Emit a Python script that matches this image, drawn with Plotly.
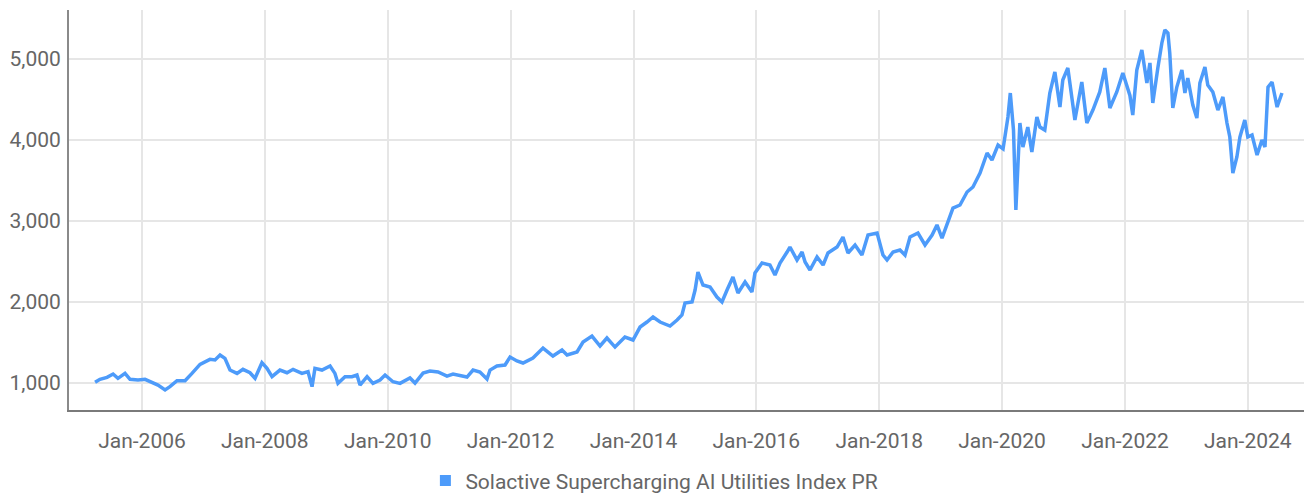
import plotly.graph_objects as go

# Solactive Supercharging AI Utilities Index PR, index level (price return)
dates = [
    "2005-03-28", "2005-04-26", "2005-06-07", "2005-07-13", "2005-08-11", "2005-09-22",
    "2005-10-22", "2005-12-08", "2006-01-19", "2006-03-01", "2006-04-06", "2006-05-18",
    "2006-06-16", "2006-07-28", "2006-09-14", "2006-10-25", "2006-12-12", "2007-02-09",
    "2007-03-11", "2007-04-10", "2007-05-09", "2007-06-08", "2007-07-20", "2007-08-24",
    "2007-10-05", "2007-11-04", "2007-12-15", "2008-01-14", "2008-02-13", "2008-03-31",
    "2008-05-12", "2008-06-17", "2008-08-09", "2008-09-14", "2008-10-08", "2008-10-25",
    "2008-12-06", "2009-01-23", "2009-02-21", "2009-03-11", "2009-04-22", "2009-06-02",
    "2009-07-02", "2009-07-20", "2009-08-31", "2009-10-05", "2009-11-16", "2009-12-16",
    "2010-02-01", "2010-03-15", "2010-05-13", "2010-06-12", "2010-07-30", "2010-09-09",
    "2010-10-27", "2010-12-19", "2011-01-24", "2011-04-17", "2011-05-23", "2011-07-03",
    "2011-08-14", "2011-09-01", "2011-10-12", "2011-11-29", "2011-12-29", "2012-02-08",
    "2012-03-15", "2012-05-13", "2012-07-12", "2012-09-09", "2012-11-02", "2012-12-02",
    "2013-01-30", "2013-03-07", "2013-04-29", "2013-06-16", "2013-07-27", "2013-09-13",
    "2013-11-11", "2013-12-29", "2014-02-09", "2014-03-22", "2014-04-27", "2014-06-08",
    "2014-08-06", "2014-09-17", "2014-10-16", "2014-11-03", "2014-12-15", "2015-01-02",
    "2015-01-19", "2015-02-18", "2015-04-01", "2015-05-12", "2015-06-11", "2015-07-11",
    "2015-08-15", "2015-09-14", "2015-10-26", "2015-12-06", "2015-12-24", "2016-02-04",
    "2016-03-22", "2016-04-21", "2016-05-21", "2016-07-02", "2016-07-19", "2016-08-30",
    "2016-09-29", "2016-10-17", "2016-11-15", "2016-12-27", "2017-02-01", "2017-03-02",
    "2017-04-25", "2017-05-30", "2017-06-29", "2017-08-10", "2017-09-20", "2017-10-26",
    "2017-12-19", "2018-01-23", "2018-02-16", "2018-03-24", "2018-05-04", "2018-06-03",
    "2018-07-03", "2018-08-19", "2018-09-30", "2018-11-11", "2018-12-10", "2019-01-09",
    "2019-02-08", "2019-03-15", "2019-04-26", "2019-06-07", "2019-07-12", "2019-08-23",
    "2019-10-04", "2019-11-02", "2019-12-08", "2020-01-07", "2020-02-05", "2020-02-19",
    "2020-03-09", "2020-03-23", "2020-04-16", "2020-05-04", "2020-06-02", "2020-06-26",
    "2020-07-26", "2020-08-13", "2020-09-11", "2020-10-11", "2020-11-10", "2020-12-10",
    "2020-12-27", "2021-01-26", "2021-03-09", "2021-04-19", "2021-05-19", "2021-06-24",
    "2021-08-04", "2021-09-03", "2021-10-03", "2021-11-13", "2021-12-19", "2022-01-30",
    "2022-02-16", "2022-03-12", "2022-04-11", "2022-05-11", "2022-05-29", "2022-06-15",
    "2022-07-15", "2022-08-08", "2022-08-26", "2022-09-13", "2022-09-24", "2022-10-12",
    "2022-11-05", "2022-12-05", "2022-12-23", "2023-01-09", "2023-02-08", "2023-03-04",
    "2023-03-22", "2023-04-21", "2023-05-08", "2023-06-07", "2023-07-07", "2023-08-06",
    "2023-08-30", "2023-09-16", "2023-10-04", "2023-10-28", "2023-11-15", "2023-12-14",
    "2024-01-01", "2024-01-26", "2024-02-25", "2024-03-25", "2024-04-12", "2024-04-30",
    "2024-05-24", "2024-06-23", "2024-07-22",
]

index_level = [
    1009, 1046, 1070, 1111, 1058, 1119,
    1046, 1037, 1046, 1009, 975, 914,
    955, 1029, 1029, 1119, 1231, 1292,
    1284, 1346, 1305, 1160, 1119, 1169,
    1127, 1058, 1251, 1181, 1078, 1160,
    1127, 1169, 1119, 1140, 955, 1181,
    1160, 1210, 1119, 996, 1078, 1078,
    1099, 975, 1078, 996, 1037, 1099,
    1016, 996, 1062, 1000, 1123, 1148,
    1136, 1086, 1111, 1074, 1160, 1136,
    1049, 1160, 1210, 1222, 1321, 1272,
    1247, 1309, 1432, 1333, 1407, 1346,
    1383, 1506, 1580, 1457, 1556, 1444,
    1568, 1531, 1691, 1753, 1815, 1753,
    1704, 1778, 1840, 1988, 2000, 2148,
    2370, 2210, 2185, 2062, 2000, 2148,
    2309, 2111, 2247, 2123, 2358, 2481,
    2457, 2333, 2481, 2617, 2679, 2519,
    2617, 2494, 2395, 2556, 2457, 2605,
    2679, 2802, 2605, 2704, 2580, 2827,
    2852, 2580, 2519, 2617, 2642, 2580,
    2802, 2852, 2704, 2827, 2951, 2790,
    2975, 3160, 3198, 3358, 3420, 3593,
    3840, 3753, 3938, 3890, 4284, 4580,
    4123, 3136, 4210, 3914, 4160, 3852,
    4284, 4160, 4123, 4580, 4840, 4407,
    4741, 4889, 4247, 4716, 4210, 4370,
    4593, 4889, 4395, 4593, 4827, 4550,
    4309, 4864, 5111, 4704, 4951, 4457,
    4889, 5198, 5358, 5321, 5074, 4395,
    4654, 4864, 4580, 4765, 4432, 4272,
    4704, 4901, 4679, 4593, 4370, 4531,
    4210, 4037, 3593, 3790, 4037, 4247,
    4037, 4062, 3815, 4000, 3914, 4654,
    4716, 4407, 4580,
]

series_name = "Solactive Supercharging AI Utilities Index PR"
line_color = "#4d9bfa"
text_color = "#666666"
grid_color = "#e6e6e6"
font_family = "Roboto, Arial, sans-serif"

fig = go.Figure()

fig.add_trace(go.Scatter(
    x=dates,
    y=index_level,
    mode="lines",
    line=dict(color=line_color, width=3.5),
    name=series_name,
    showlegend=False,
))

# legend entry drawn as a square swatch
fig.add_trace(go.Scatter(
    x=[None],
    y=[None],
    mode="markers",
    marker=dict(symbol="square", size=11, color=line_color),
    name=series_name,
    showlegend=True,
))

fig.update_layout(
    width=1304,
    height=496,
    margin=dict(l=69, r=0, t=10, b=86, autoexpand=False),
    paper_bgcolor="white",
    plot_bgcolor="white",
    font=dict(family=font_family, size=20, color=text_color),
    legend=dict(
        orientation="h",
        x=0.474,
        xanchor="center",
        y=-0.177,
        yanchor="middle",
        font=dict(size=21, color=text_color),
        itemwidth=30,
    ),
    xaxis=dict(
        range=["2004-10-24", "2024-11-30"],
        type="date",
        tick0="2006-01-01",
        dtick="M24",
        tickformat="%b-%Y",
        showgrid=True,
        gridcolor=grid_color,
        gridwidth=2,
        showline=True,
        linecolor="#7a7a7a",
        linewidth=2,
        ticks="",
        ticklabelstandoff=11,
        tickfont=dict(size=21, color=text_color),
        zeroline=False,
    ),
    yaxis=dict(
        range=[667, 5605],
        tickvals=[1000, 2000, 3000, 4000, 5000],
        tickformat=",",
        showgrid=True,
        gridcolor=grid_color,
        gridwidth=2,
        showline=True,
        linecolor="#8a8a8a",
        linewidth=2,
        ticks="",
        ticklabelstandoff=2,
        tickfont=dict(size=21, color=text_color),
        zeroline=False,
    ),
)

fig.write_html("out.html")
